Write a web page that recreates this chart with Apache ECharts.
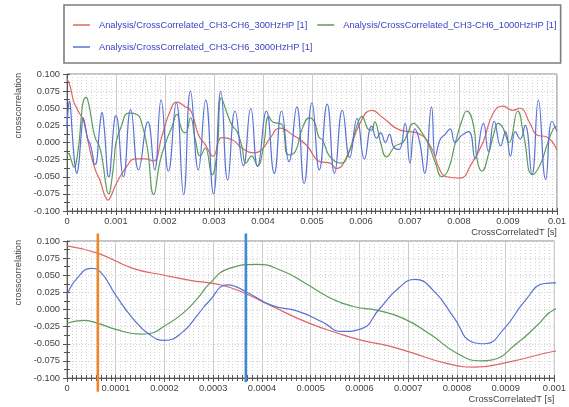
<!DOCTYPE html>
<html>
<head>
<meta charset="utf-8">
<script src="https://cdn.jsdelivr.net/npm/echarts@6/dist/echarts.min.js"></script>
<style>
  html, body { margin: 0; padding: 0; background: #ffffff; }
  #chart { width: 569px; height: 407px; }
</style>
</head>
<body>
<div id="chart"></div>
<script>
// Cross-correlation CH3-CH6 for three high-pass settings.
// Each entry: [time in ms, correlation]. The first millisecond is sampled densely
// because the lower panel zooms into it.
const red300 = [
  [0, 0.093], [0.064, 0.082], [0.135, 0.060], [0.2, 0.050], [0.25, 0.043], [0.32, 0.035],
  [0.367, 0.023], [0.42, 0.005], [0.49, -0.018], [0.557, -0.035], [0.605, -0.045],
  [0.66, -0.053], [0.707, -0.063], [0.775, -0.078], [0.836, -0.084], [0.91, -0.076],
  [1.0, -0.061], [1.2, -0.037], [1.4, -0.024], [1.6, -0.024], [1.76, -0.027], [1.94, 0.010],
  [2.1, 0.045], [2.24, 0.059], [2.4, 0.053], [2.53, 0.046], [2.69, 0.010], [2.82, -0.003],
  [2.98, -0.020], [3.16, 0.007], [3.37, 0.004], [3.57, -0.008], [3.8, -0.015], [3.98, -0.010],
  [4.14, 0.006], [4.35, 0.021], [4.61, 0.011], [4.89, -0.004], [5.16, -0.028], [5.37, -0.030],
  [5.5, -0.038], [5.71, -0.021], [5.98, 0.028], [6.22, 0.047], [6.45, 0.036], [6.8, 0.018],
  [7.14, 0.014], [7.41, -0.004], [7.61, -0.040], [7.75, -0.050], [8.02, -0.052], [8.25, -0.032],
  [8.49, 0.000], [8.7, 0.043], [8.9, 0.053], [9.1, 0.047], [9.24, 0.050], [9.45, 0.028],
  [9.59, 0.011], [9.79, 0.008], [10, -0.011]
];

const green1000 = [
  [0, -0.020], [0.034, -0.016], [0.067, -0.021], [0.1, -0.029], [0.15, -0.036], [0.17, -0.035],
  [0.2, -0.024], [0.237, -0.006], [0.27, 0.018], [0.29, 0.036], [0.333, 0.060], [0.39, 0.066],
  [0.44, 0.057], [0.49, 0.038], [0.537, 0.018], [0.59, 0.004], [0.635, -0.001], [0.69, -0.013],
  [0.747, -0.037], [0.8, -0.064], [0.85, -0.075], [0.87, -0.074], [0.924, -0.049], [0.965, -0.023],
  [1.0, 0.000], [1.1, 0.022], [1.26, 0.043], [1.43, 0.041], [1.54, 0.024], [1.64, -0.008],
  [1.77, -0.076], [1.9, -0.027], [2.04, 0.005], [2.14, 0.022], [2.24, 0.041], [2.35, 0.017],
  [2.42, 0.014], [2.52, 0.036], [2.62, 0.004], [2.72, -0.020], [2.82, -0.008], [2.96, -0.047],
  [3.06, -0.015], [3.15, 0.065], [3.27, 0.042], [3.37, 0.025], [3.47, 0.016], [3.57, -0.006],
  [3.65, -0.030], [3.77, -0.020], [3.89, -0.034], [4.0, -0.010], [4.12, 0.038], [4.2, 0.030],
  [4.32, 0.028], [4.4, 0.025], [4.52, -0.018], [4.66, -0.013], [4.8, 0.020], [4.95, 0.036],
  [5.05, 0.030], [5.14, 0.008], [5.22, 0.003], [5.34, -0.018], [5.48, -0.028], [5.6, -0.030],
  [5.75, -0.015], [5.92, 0.025], [6.02, 0.038], [6.14, 0.020], [6.22, 0.018], [6.28, 0.030],
  [6.4, 0.000], [6.52, -0.021], [6.7, -0.005], [6.85, 0.000], [6.94, 0.011], [7.07, 0.028],
  [7.21, 0.018], [7.38, -0.003], [7.52, -0.030], [7.65, -0.050], [7.78, -0.040], [7.92, -0.002],
  [8.05, 0.030], [8.16, 0.046], [8.3, 0.024], [8.37, -0.025], [8.47, -0.042], [8.6, -0.018],
  [8.72, 0.015], [8.8, 0.028], [8.9, 0.021], [9.02, 0.000], [9.2, 0.046], [9.32, 0.011],
  [9.5, -0.047], [9.66, -0.032], [9.8, -0.003], [9.92, 0.019], [10, 0.024]
];

const blue3000 = [
  [0, 0.021], [0.02, 0.045], [0.05, 0.060], [0.067, 0.056], [0.1, 0.021], [0.135, -0.013],
  [0.17, -0.037], [0.2, -0.045], [0.237, -0.033], [0.27, -0.006], [0.29, 0.011], [0.33, 0.036],
  [0.367, 0.026], [0.42, 0.006], [0.476, -0.003], [0.523, -0.018], [0.564, -0.032], [0.605, -0.028],
  [0.64, 0.000], [0.68, 0.031], [0.714, 0.044], [0.754, 0.026], [0.795, -0.013], [0.83, -0.047],
  [0.857, -0.050], [0.897, -0.028], [0.938, 0.011], [0.979, 0.038], [1.0, 0.039],
  [1.15, -0.050], [1.3, 0.048], [1.46, -0.040], [1.65, 0.030], [1.79, -0.040], [1.92, 0.062],
  [2.07, -0.042], [2.23, 0.058], [2.38, -0.076], [2.52, 0.075], [2.68, -0.040], [2.83, 0.062],
  [2.99, -0.075], [3.14, 0.075], [3.28, -0.055], [3.43, 0.046], [3.6, -0.034], [3.75, 0.050],
  [3.89, -0.035], [4.07, 0.046], [4.23, -0.045], [4.38, 0.046], [4.53, -0.028], [4.69, 0.052],
  [4.84, -0.060], [5.0, 0.058], [5.15, -0.040], [5.31, 0.056], [5.46, -0.045], [5.62, 0.047],
  [5.77, -0.022], [5.92, 0.035], [6.07, -0.024], [6.22, 0.024], [6.32, 0.006], [6.4, 0.014],
  [6.5, 0.000], [6.58, 0.012], [6.68, -0.008], [6.78, -0.010], [6.9, 0.028], [7.0, -0.030],
  [7.1, 0.020], [7.2, 0.000], [7.3, -0.045], [7.44, 0.052], [7.52, -0.020], [7.62, 0.005],
  [7.72, 0.012], [7.82, 0.020], [7.92, 0.000], [8.05, 0.010], [8.2, 0.016], [8.33, -0.023],
  [8.5, 0.028], [8.6, -0.013], [8.72, 0.031], [8.85, -0.005], [8.95, 0.016], [9.05, -0.020],
  [9.15, 0.016], [9.25, 0.005], [9.35, 0.025], [9.49, -0.047], [9.62, 0.062], [9.77, -0.054],
  [9.9, 0.031], [10, 0.016]
];

const seriesNames = [
  'Analysis/CrossCorrelated_CH3-CH6_300HzHP [1]',
  'Analysis/CrossCorrelated_CH3-CH6_1000HzHP [1]',
  'Analysis/CrossCorrelated_CH3-CH6_3000HzHP [1]'
];
const seriesColors = ['#e06464', '#5c9c5c', '#5a72d4'];

// Cursor positions in the zoomed panel (seconds), their colours and vertical reach.
const cursorTimes = [0.0000633, 0.000367];
const cursorColors = ['#f0862a', '#3f8ad4'];
const cursorSpan = [[0.111, -0.12], [0.111, -0.106]];

// Axis ranges: full record and the zoomed first millisecond.
const fullRange = { max: 0.01, step: 0.001 };
const zoomRange = { max: 0.001, step: 0.0001 };
const yRange = { min: -0.1, max: 0.1, step: 0.025 };

const FONT = 'Arial, "Liberation Sans", sans-serif';
const AXIS_COLOR = '#555';
const LABEL_COLOR = '#444';

const toSeconds = rows => rows.map(([ms, v]) => [ms / 1000, v]);

function xAxesFor(gridIndex, range) {
  const common = {
    type: 'value', gridIndex, min: 0, max: range.max, interval: range.step, position: 'bottom'
  };
  return [
    Object.assign({}, common, {
      axisLine: { show: true, onZero: false, lineStyle: { color: AXIS_COLOR, width: 1 } },
      axisTick: { show: true, length: 4, lineStyle: { color: AXIS_COLOR } },
      minorTick: { show: true, splitNumber: 10, length: 3, lineStyle: { color: AXIS_COLOR } },
      axisLabel: {
        margin: 6, fontSize: 9.3, fontFamily: FONT, color: LABEL_COLOR,
        formatter: v => String(Number(v.toFixed(6)))
      },
      splitLine: { show: true, lineStyle: { color: '#cccccc', width: 1 } },
      minorSplitLine: { show: true, lineStyle: { color: '#d6d6d6', width: 1, type: [1, 2] } },
      name: 'CrossCorrelatedT [s]',
      nameLocation: 'end',
      nameGap: 0,
      nameTextStyle: {
        fontSize: 9.3, fontFamily: FONT, color: LABEL_COLOR,
        align: 'right', verticalAlign: 'top', padding: [17, 0, 0, 0]
      }
    }),
    Object.assign({}, common, {
      axisLine: { show: false, onZero: false },
      axisTick: { show: true, inside: true, length: 3, lineStyle: { color: AXIS_COLOR } },
      minorTick: { show: true, splitNumber: 10, length: 3, lineStyle: { color: AXIS_COLOR } },
      axisLabel: { show: false },
      splitLine: { show: false }
    })
  ];
}

function yAxesFor(gridIndex) {
  const common = {
    type: 'value', gridIndex, min: yRange.min, max: yRange.max, interval: yRange.step, position: 'left'
  };
  return [
    Object.assign({}, common, {
      axisLine: { show: true, onZero: false, lineStyle: { color: AXIS_COLOR, width: 1 } },
      axisTick: { show: true, length: 4, lineStyle: { color: AXIS_COLOR } },
      minorTick: { show: true, splitNumber: 2, length: 3, lineStyle: { color: AXIS_COLOR } },
      axisLabel: {
        margin: 7, fontSize: 9.3, fontFamily: FONT, color: LABEL_COLOR,
        formatter: v => v.toFixed(3)
      },
      splitLine: { show: true, lineStyle: { color: '#d0d0d0', width: 1, type: [1, 2] } },
      name: 'crosscorrelation',
      nameLocation: 'middle',
      nameRotate: 90,
      nameGap: 42,
      nameTextStyle: { fontSize: 9.3, fontFamily: FONT, color: LABEL_COLOR, align: 'left', padding: [0, 0, 0, 4] }
    }),
    Object.assign({}, common, {
      axisLine: { show: false, onZero: false },
      axisTick: { show: true, inside: true, length: 3, lineStyle: { color: AXIS_COLOR } },
      minorTick: { show: true, splitNumber: 2, length: 3, lineStyle: { color: AXIS_COLOR } },
      axisLabel: { show: false },
      splitLine: { show: false },
      minorSplitLine: { show: false }
    })
  ];
}

function lineSeries(i, data, axisIndex) {
  return {
    name: seriesNames[i],
    type: 'line',
    xAxisIndex: axisIndex,
    yAxisIndex: axisIndex,
    data: toSeconds(data),
    smooth: 0.5,
    symbol: 'none',
    lineStyle: { color: seriesColors[i], width: 1.2 },
    itemStyle: { color: seriesColors[i] },
    clip: true,
    z: 3
  };
}

// Vertical cursors in the zoomed panel; they reach a little past the plot frame.
function cursorSeries(k) {
  return {
    name: 'cursor ' + (k + 1),
    type: 'line',
    xAxisIndex: 2,
    yAxisIndex: 2,
    data: cursorSpan[k].map(v => [cursorTimes[k], v]),
    symbol: 'none',
    clip: false,
    silent: true,
    lineStyle: { color: cursorColors[k], width: 2.6 },
    itemStyle: { color: cursorColors[k] },
    z: 5
  };
}

const seriesData = [red300, green1000, blue3000];
const series = [];
seriesData.forEach((d, i) => series.push(lineSeries(i, d, 0)));
seriesData.forEach((d, i) => series.push(lineSeries(i, d, 2)));
cursorTimes.forEach((t, k) => series.push(cursorSeries(k)));

const chart = echarts.init(document.getElementById('chart'), null, { renderer: 'canvas' });
chart.setOption({
  animation: false,
  backgroundColor: '#ffffff',
  textStyle: { fontFamily: FONT },
  legend: {
    left: 64,
    top: 5,
    width: 490,
    padding: [14, 4, 10, 9],
    borderColor: '#7d7d7d',
    borderWidth: 1.6,
    icon: 'rect',
    itemWidth: 17,
    itemHeight: 1.5,
    itemGap: 10,
    textStyle: {
      fontSize: 9.3, fontFamily: FONT, color: '#3a3fc4',
      lineHeight: 12, padding: [0, 0, 0, 4]
    },
    data: seriesNames
  },
  grid: [
    { left: 67, top: 74, width: 490, height: 137, show: true, borderColor: '#888', borderWidth: 1 },
    { left: 67, top: 241, width: 490, height: 137, show: true, borderColor: '#888', borderWidth: 1 }
  ],
  xAxis: [].concat(xAxesFor(0, fullRange), xAxesFor(1, zoomRange)),
  yAxis: [].concat(yAxesFor(0), yAxesFor(1)),
  series: series
});
</script>
</body>
</html>
